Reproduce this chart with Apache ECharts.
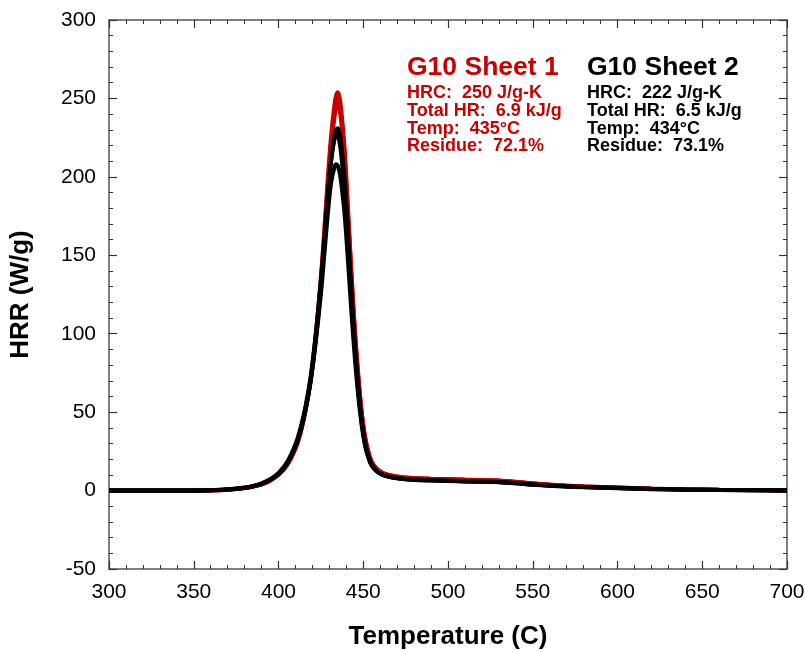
<!DOCTYPE html>
<html>
<head>
<meta charset="utf-8">
<script src="https://cdn.jsdelivr.net/npm/echarts@6/dist/echarts.min.js"></script>
<style>html,body{margin:0;padding:0;background:#fff}#c{width:805px;height:652px}</style>
</head>
<body>
<div id="c"></div>
<script>
var temps = [300,320,340,350,360,370,380,385,390,395,400,405,410,413,416,419,422,425,427,429,431,433,434,435,436,437,439,441,443,445,447,449,451,453,455,458,461,465,470,480,490,500,510,520,530,540,550,560,570,580,590,600,620,640,660,680,700];
var red1 = [0,0,0,0.1,0.2,0.6,1.6,2.6,4.0,6.4,10.2,16.5,27.5,38,53,72,100,136,166,198,226,246,252,254,251,243,218,180,140,104,75,51,35,25,18.5,14,11.7,10,9,8,7.6,7.3,7,6.8,6.4,5.6,4.6,3.8,3.2,2.7,2.3,2.0,1.3,0.8,0.5,0.3,0.1];
var red2 = [0,0,0,0.1,0.2,0.6,1.6,2.6,4.0,6.3,10,16.2,27,37,52,71,99,134,163,194,222,242,248,250,247,239,214,177,137,102,73,50,34,24.5,18,13.8,11.5,9.9,8.9,7.9,7.5,7.2,6.9,6.7,6.3,5.5,4.5,3.7,3.1,2.6,2.2,1.9,1.2,0.8,0.5,0.3,0.1];
var red3 = [0,0,0,0.1,0.2,0.6,1.6,2.6,4.0,6.3,10,16,26.5,36.5,51,70,97,132,160,190,218,238,244,246,243,235,210,174,135,100,72,49,33.5,24,17.8,13.6,11.4,9.8,8.8,7.8,7.4,7.1,6.8,6.6,6.2,5.4,4.4,3.6,3.0,2.5,2.1,1.8,1.2,0.8,0.5,0.3,0.1];
var black1 = [0,0,0,0.1,0.2,0.7,1.7,2.7,4.2,6.7,10.5,17,28,38,52,70,96,130,157,186,210,226,230,231,228,221,199,165,128,95,68,46,31,22,16.5,12.5,10.5,9,8,7,6.6,6.3,6,5.8,5.5,4.8,3.9,3.2,2.7,2.3,2,1.7,1.1,0.7,0.4,0.2,0.1];
var black2 = [0,0,0,0.1,0.2,0.8,1.9,3,4.6,7.2,11.3,18,29.5,40,54,73,100,134,160,188,210,224,227,226,222,214,190,156,121,90,64,44,30,21.5,16,12.3,10.3,8.9,7.9,6.9,6.5,6.2,5.9,5.7,5.4,4.7,3.8,3.1,2.6,2.2,1.9,1.6,1.0,0.6,0.4,0.2,0.1];
var black3 = [0,0,0,0.1,0.2,0.7,1.8,2.8,4.4,7,10.8,17.5,28.5,38.5,52,70,95,125,150,175,196,206,208,207,203,196,176,146,114,85,61,42,29,21,15.8,12.2,10.2,8.8,7.8,6.8,6.4,6.1,5.8,5.6,5.3,4.6,3.7,3.0,2.5,2.1,1.8,1.5,0.9,0.6,0.3,0.2,0.1];

var sheet1Lines = ['HRC:  250 J/g-K', 'Total HR:  6.9 kJ/g', 'Temp:  435°C', 'Residue:  72.1%'];
var sheet2Lines = ['HRC:  222 J/g-K', 'Total HR:  6.5 kJ/g', 'Temp:  434°C', 'Residue:  73.1%'];

var RED = '#c80000';
var FONT = '"Liberation Sans", Arial, Helvetica, sans-serif';

function pairs(ys){ return temps.map(function(t,i){ return [t, ys[i]]; }); }
function line(ys, color){
  return { type:'line', data:pairs(ys), showSymbol:false, symbol:'none', smooth:0.35,
    lineStyle:{ color:color, width:4 }, xAxisIndex:0, yAxisIndex:0, z:color===RED?2:3, animation:false };
}

var axisLineStyle = { color:'#555', width:1.5 };
function xA(pos, labels){
  return { type:'value', position:pos, min:300, max:700, interval:50,
    axisLine:{ show:true, onZero:false, lineStyle:axisLineStyle },
    axisTick:{ show:true, inside:true, length:8, lineStyle:{ color:'#333', width:1.2 } },
    minorTick:{ show:true, splitNumber:5, length:4, lineStyle:{ color:'#333', width:1 } },
    splitLine:{ show:false },
    axisLabel:{ show:labels, color:'#000', fontSize:21, fontFamily:FONT, margin:13 },
    name: labels ? 'Temperature (C)' : '', nameLocation:'middle', nameGap:55,
    nameTextStyle:{ color:'#000', fontSize:26, fontWeight:'bold', fontFamily:FONT } };
}
function yA(pos, labels){
  return { type:'value', position:pos, min:-50, max:300, interval:50,
    axisLine:{ show:true, onZero:false, lineStyle:axisLineStyle },
    axisTick:{ show:true, inside:true, length:8, lineStyle:{ color:'#333', width:1.2 } },
    minorTick:{ show:true, splitNumber:5, length:4, lineStyle:{ color:'#333', width:1 } },
    splitLine:{ show:false },
    axisLabel:{ show:labels, color:'#000', fontSize:21, fontFamily:FONT, margin:13 },
    name: labels ? 'HRR (W/g)' : '', nameLocation:'middle', nameGap:75,
    nameTextStyle:{ color:'#000', fontSize:26, fontWeight:'bold', fontFamily:FONT } };
}

var graphics = [];
function block(x, color, title, lines){
  graphics.push({ type:'text', left:x, top:54, style:{ text:title, fill:color, font:'bold 26.5px ' + FONT } });
  lines.forEach(function(s,i){
    graphics.push({ type:'text', left:x, top:84 + i*17.8, style:{ text:s, fill:color, font:'bold 18px ' + FONT } });
  });
}
block(407, RED, 'G10 Sheet 1', sheet1Lines);
block(587, '#000', 'G10 Sheet 2', sheet2Lines);

var chart = echarts.init(document.getElementById('c'), null, { renderer:'canvas' });
chart.setOption({
  animation:false,
  backgroundColor:'#fff',
  grid:{ left:109, right:18, top:20, bottom:83, containLabel:false, outerBoundsMode:'none' },
  xAxis:[ xA('bottom', true), xA('top', false) ],
  yAxis:[ yA('left', true), yA('right', false) ],
  graphic: graphics,
  series:[ line(red1, RED), line(red2, RED), line(red3, RED), line(black1, '#000'), line(black2, '#000'), line(black3, '#000') ]
});
</script>
</body>
</html>
